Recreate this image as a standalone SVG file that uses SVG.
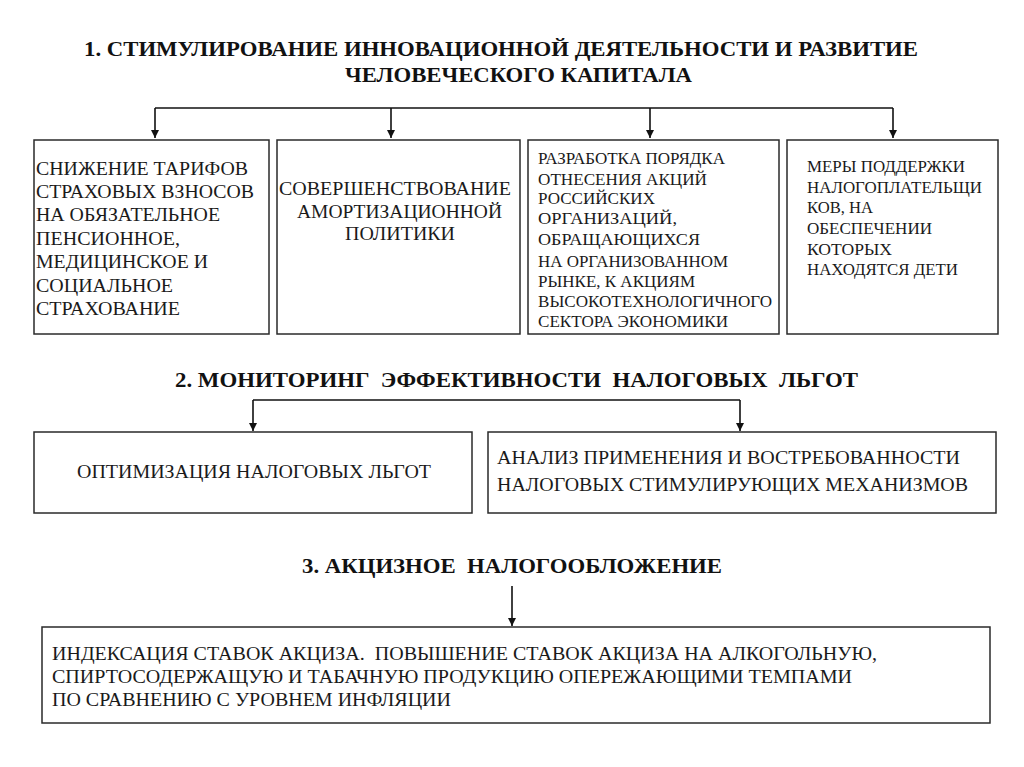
<svg xmlns="http://www.w3.org/2000/svg" width="1024" height="767" viewBox="0 0 1024 767" font-family="'Liberation Serif', 'Times New Roman', Times, 'DejaVu Serif', serif">
<style>
.bg{fill:#ffffff}
.box{fill:#ffffff;stroke:#2a2a2a;stroke-width:1.5}
.title{font-weight:bold;font-size:21px;fill:#111}
.t1{font-size:19px;fill:#1a1a1a}
.t3{font-size:17px;fill:#1a1a1a}
.t2{font-size:19px;fill:#1a1a1a}
.conn{fill:none;stroke:#111;stroke-width:1.6}
</style>
<defs>
<marker id="arr" viewBox="0 0 10 10" refX="10" refY="5" markerWidth="8" markerHeight="8" markerUnits="userSpaceOnUse" orient="auto">
<path d="M0,0 L10,5 L0,10 z" fill="#111"/>
</marker>
</defs>
<rect class="bg" x="0" y="0" width="1024" height="767"/>

<g id="titles" font-family="'Liberation Serif', Times, serif">
<text class="title" x="84" y="56" textLength="834" lengthAdjust="spacingAndGlyphs">1. СТИМУЛИРОВАНИЕ ИННОВАЦИОННОЙ ДЕЯТЕЛЬНОСТИ И РАЗВИТИЕ</text>
<text class="title" x="345" y="82" textLength="347" lengthAdjust="spacingAndGlyphs">ЧЕЛОВЕЧЕСКОГО КАПИТАЛА</text>
<text class="title" x="175" y="387" textLength="683" lengthAdjust="spacingAndGlyphs" xml:space="preserve">2. МОНИТОРИНГ  ЭФФЕКТИВНОСТИ  НАЛОГОВЫХ  ЛЬГОТ</text>
<text class="title" x="302" y="573" textLength="420" lengthAdjust="spacingAndGlyphs" xml:space="preserve">3. АКЦИЗНОЕ  НАЛОГООБЛОЖЕНИЕ</text>
</g>

<g id="connectors">
<path class="conn" d="M155,108 H893"/>
<path class="conn" d="M155,108 V138" marker-end="url(#arr)"/>
<path class="conn" d="M391,108 V138" marker-end="url(#arr)"/>
<path class="conn" d="M650,108 V138" marker-end="url(#arr)"/>
<path class="conn" d="M893,108 V138" marker-end="url(#arr)"/>
<path class="conn" d="M253,400 H740"/>
<path class="conn" d="M253,400 V431" marker-end="url(#arr)"/>
<path class="conn" d="M740,400 V431" marker-end="url(#arr)"/>
<path class="conn" d="M512,586 V626" marker-end="url(#arr)"/>
</g>

<g id="node-b1">
<rect class="box" x="34" y="140" width="235" height="194"/>
<text class="t1" x="36" y="175" textLength="212" lengthAdjust="spacingAndGlyphs">СНИЖЕНИЕ ТАРИФОВ</text>
<text class="t1" x="36" y="198" textLength="218" lengthAdjust="spacingAndGlyphs">СТРАХОВЫХ ВЗНОСОВ</text>
<text class="t1" x="36" y="221" textLength="184" lengthAdjust="spacingAndGlyphs">НА ОБЯЗАТЕЛЬНОЕ</text>
<text class="t1" x="36" y="245" textLength="144" lengthAdjust="spacingAndGlyphs">ПЕНСИОННОЕ,</text>
<text class="t1" x="36" y="268" textLength="172" lengthAdjust="spacingAndGlyphs">МЕДИЦИНСКОЕ И</text>
<text class="t1" x="36" y="292" textLength="137" lengthAdjust="spacingAndGlyphs">СОЦИАЛЬНОЕ</text>
<text class="t1" x="36" y="315" textLength="144" lengthAdjust="spacingAndGlyphs">СТРАХОВАНИЕ</text>
</g>

<g id="node-b2">
<rect class="box" x="277" y="140" width="243" height="194"/>
<text class="t1" x="279" y="195" textLength="232" lengthAdjust="spacingAndGlyphs">СОВЕРШЕНСТВОВАНИЕ</text>
<text class="t1" x="297" y="218" textLength="205" lengthAdjust="spacingAndGlyphs">АМОРТИЗАЦИОННОЙ</text>
<text class="t1" x="345" y="240" textLength="110" lengthAdjust="spacingAndGlyphs">ПОЛИТИКИ</text>
</g>

<g id="node-b3">
<rect class="box" x="528" y="140" width="251" height="194"/>
<text class="t3" x="538" y="164" textLength="187" lengthAdjust="spacingAndGlyphs">РАЗРАБОТКА ПОРЯДКА</text>
<text class="t3" x="538" y="185" textLength="169" lengthAdjust="spacingAndGlyphs">ОТНЕСЕНИЯ АКЦИЙ</text>
<text class="t3" x="538" y="204" textLength="117" lengthAdjust="spacingAndGlyphs">РОССИЙСКИХ</text>
<text class="t3" x="538" y="224" textLength="139" lengthAdjust="spacingAndGlyphs">ОРГАНИЗАЦИЙ,</text>
<text class="t3" x="538" y="245" textLength="162" lengthAdjust="spacingAndGlyphs">ОБРАЩАЮЩИХСЯ</text>
<text class="t3" x="538" y="267" textLength="190" lengthAdjust="spacingAndGlyphs">НА ОРГАНИЗОВАННОМ</text>
<text class="t3" x="538" y="287" textLength="157" lengthAdjust="spacingAndGlyphs">РЫНКЕ, К АКЦИЯМ</text>
<text class="t3" x="538" y="307" textLength="234" lengthAdjust="spacingAndGlyphs">ВЫСОКОТЕХНОЛОГИЧНОГО</text>
<text class="t3" x="538" y="327" textLength="190" lengthAdjust="spacingAndGlyphs">СЕКТОРА ЭКОНОМИКИ</text>
</g>

<g id="node-b4">
<rect class="box" x="787" y="140" width="211" height="194"/>
<text class="t3" x="807" y="172" textLength="158" lengthAdjust="spacingAndGlyphs">МЕРЫ ПОДДЕРЖКИ</text>
<text class="t3" x="807" y="193" textLength="175" lengthAdjust="spacingAndGlyphs">НАЛОГОПЛАТЕЛЬЩИ</text>
<text class="t3" x="807" y="213" textLength="66" lengthAdjust="spacingAndGlyphs">КОВ, НА</text>
<text class="t3" x="807" y="234" textLength="125" lengthAdjust="spacingAndGlyphs">ОБЕСПЕЧЕНИИ</text>
<text class="t3" x="807" y="255" textLength="85" lengthAdjust="spacingAndGlyphs">КОТОРЫХ</text>
<text class="t3" x="807" y="275" textLength="151" lengthAdjust="spacingAndGlyphs">НАХОДЯТСЯ ДЕТИ</text>
</g>

<g id="node-b5">
<rect class="box" x="34" y="432" width="438" height="81"/>
<text class="t2" x="77" y="478" textLength="354" lengthAdjust="spacingAndGlyphs">ОПТИМИЗАЦИЯ НАЛОГОВЫХ ЛЬГОТ</text>
</g>

<g id="node-b6">
<rect class="box" x="488" y="432" width="508" height="81"/>
<text class="t2" x="497" y="464" textLength="463" lengthAdjust="spacingAndGlyphs">АНАЛИЗ ПРИМЕНЕНИЯ И ВОСТРЕБОВАННОСТИ</text>
<text class="t2" x="497" y="491" textLength="471" lengthAdjust="spacingAndGlyphs">НАЛОГОВЫХ СТИМУЛИРУЮЩИХ МЕХАНИЗМОВ</text>
</g>

<g id="node-b7">
<rect class="box" x="42" y="627" width="948" height="96"/>
<text class="t2" x="52" y="660" textLength="825" lengthAdjust="spacingAndGlyphs" xml:space="preserve">ИНДЕКСАЦИЯ СТАВОК АКЦИЗА.  ПОВЫШЕНИЕ СТАВОК АКЦИЗА НА АЛКОГОЛЬНУЮ,</text>
<text class="t2" x="52" y="683" textLength="800" lengthAdjust="spacingAndGlyphs">СПИРТОСОДЕРЖАЩУЮ И ТАБАЧНУЮ ПРОДУКЦИЮ ОПЕРЕЖАЮЩИМИ ТЕМПАМИ</text>
<text class="t2" x="52" y="706" textLength="399" lengthAdjust="spacingAndGlyphs">ПО СРАВНЕНИЮ С УРОВНЕМ ИНФЛЯЦИИ</text>
</g>
</svg>
